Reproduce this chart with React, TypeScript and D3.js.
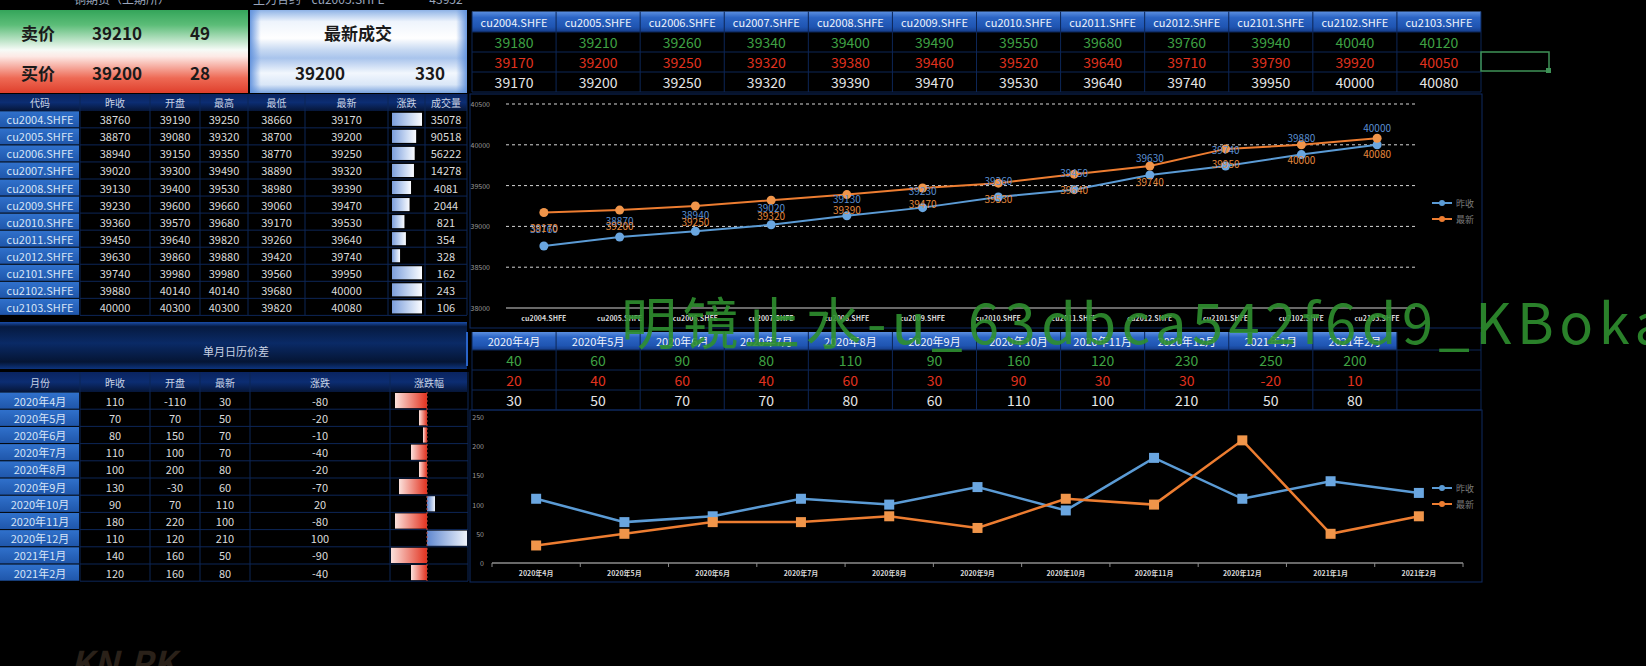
import React from 'react';
import * as d3 from 'd3';

// ---- data ----
const codes = ['cu2004.SHFE', 'cu2005.SHFE', 'cu2006.SHFE', 'cu2007.SHFE', 'cu2008.SHFE', 'cu2009.SHFE',
  'cu2010.SHFE', 'cu2011.SHFE', 'cu2012.SHFE', 'cu2101.SHFE', 'cu2102.SHFE', 'cu2103.SHFE'];
const prevClose = [38760, 38870, 38940, 39020, 39130, 39230, 39360, 39450, 39630, 39740, 39880, 40000];
const openPx = [39190, 39080, 39150, 39300, 39400, 39600, 39570, 39640, 39860, 39980, 40140, 40300];
const highPx = [39250, 39320, 39350, 39490, 39530, 39660, 39680, 39820, 39880, 39980, 40140, 40300];
const lowPx = [38660, 38700, 38770, 38890, 38980, 39060, 39170, 39260, 39420, 39560, 39680, 39820];
const lastPx = [39170, 39200, 39250, 39320, 39390, 39470, 39530, 39640, 39740, 39950, 40000, 40080];
const chgBar = [410, 330, 310, 300, 260, 240, 170, 190, 110, 410, 410, 410];
const volume = [35078, 90518, 56222, 14278, 4081, 2044, 821, 354, 328, 162, 243, 106];
const askPx = [39180, 39210, 39260, 39340, 39400, 39490, 39550, 39680, 39760, 39940, 40040, 40120];
const bidPx = [39170, 39200, 39250, 39320, 39380, 39460, 39520, 39640, 39710, 39790, 39920, 40050];

const months = ['2020年4月', '2020年5月', '2020年6月', '2020年7月', '2020年8月', '2020年9月',
  '2020年10月', '2020年11月', '2020年12月', '2021年1月', '2021年2月'];
const spPrev = [110, 70, 80, 110, 100, 130, 90, 180, 110, 140, 120];
const spOpen = [-110, 70, 150, 100, 200, -30, 70, 220, 120, 160, 160];
const spLast = [30, 50, 70, 70, 80, 60, 110, 100, 210, 50, 80];
const spChg = [-80, -20, -10, -40, -20, -70, 20, -80, 100, -90, -40];
const spAsk = [40, 60, 90, 80, 110, 90, 160, 120, 230, 250, 200];
const spBid = [20, 40, 60, 40, 60, 30, 90, 30, 30, -20, 10];

const upperTicks = [38000, 38500, 39000, 39500, 40000, 40500];
const lowerTicks = [0, 50, 100, 150, 200, 250];
const topHeaders = ['代码', '昨收', '开盘', '最高', '最低', '最新', '涨跌', '成交量'];
const spHeaders = ['月份', '昨收', '开盘', '最新', '涨跌', '涨跌幅'];

const FONT = "'Noto Sans CJK SC', 'Noto Sans', sans-serif";
const BLUE = '#5b9bd5';
const ORANGE = '#ed7d31';
const GRID = '#0d2657';

export default function App() {
  const W = 1646, H = 666;

  // top-left table
  const tlEdges = [0, 80, 150, 200, 248, 305, 388, 425, 467];
  const tlMid = tlEdges.slice(1).map((e, i) => (e + tlEdges[i]) / 2);
  const tlRows = d3.scaleBand<string>().domain(codes).range([110.8, 315.4]);
  const chgX = d3.scaleLinear().domain([0, 410]).range([392, 422]);

  // spread table
  const spEdges = [0, 80, 150, 200, 250, 390, 468];
  const spMid = spEdges.slice(1).map((e, i) => (e + spEdges[i]) / 2);
  const spRows = d3.scaleBand<string>().domain(months).range([392, 581.2]);
  const spX = d3.scaleLinear().domain([-95, 100]).range([389, 467]);

  // right tables
  const trCols = d3.scaleBand<number>().domain(d3.range(12)).range([472, 1481]);
  const trRowY = [32, 52, 72, 92];
  const brRowY = [350, 370, 390, 410];

  // upper chart
  const ux = d3.scalePoint<string>().domain(codes).range([506, 1415]).padding(0.5);
  const uy = d3.scaleLinear().domain([38000, 40500]).range([308, 104]);
  const uLine = d3.line<number>().x((_, i) => ux(codes[i]) as number).y(d => uy(d));

  // lower chart
  const lx = d3.scalePoint<string>().domain(months).range([492, 1463]).padding(0.5);
  const ly = d3.scaleLinear().domain([0, 250]).range([563, 417]);
  const lLine = d3.line<number>().x((_, i) => lx(months[i]) as number).y(d => ly(d));
  const lBounds = d3.range(12).map(i => 492 + i * lx.step());

  const num = (x: number, y: number, t: string | number, fill = '#dcdcdc', size = 11, key?: string | number) => (
    <text key={key} x={x} y={y} fill={fill} fontSize={size} textAnchor="middle" dominantBaseline="central">{t}</text>
  );

  return (
    <div style={{ position: 'absolute', left: 0, top: 0 }}>
      <svg width={W} height={H} style={{ display: 'block' }} fontFamily={FONT}>
        <defs>
          <linearGradient id="gq" x1="0" y1="0" x2="0" y2="1">
            <stop offset="0%" stopColor="#34a55a" />
            <stop offset="18%" stopColor="#5cbd78" />
            <stop offset="48%" stopColor="#f6fbf7" />
            <stop offset="56%" stopColor="#fde9e5" />
            <stop offset="82%" stopColor="#ee6a55" />
            <stop offset="100%" stopColor="#df3f2c" />
          </linearGradient>
          <linearGradient id="gb" x1="0" y1="0" x2="0" y2="1">
            <stop offset="0%" stopColor="#8fb3e6" />
            <stop offset="14%" stopColor="#eef4fc" />
            <stop offset="34%" stopColor="#ffffff" />
            <stop offset="48%" stopColor="#c7d9f2" />
            <stop offset="58%" stopColor="#a9c4ec" />
            <stop offset="76%" stopColor="#f2f7fd" />
            <stop offset="90%" stopColor="#d9e6f7" />
            <stop offset="100%" stopColor="#7aa3de" />
          </linearGradient>
          <linearGradient id="gbEdge" x1="0" y1="0" x2="1" y2="0">
            <stop offset="0%" stopColor="#5d8fdc" stopOpacity="0.9" />
            <stop offset="5%" stopColor="#5d8fdc" stopOpacity="0" />
            <stop offset="95%" stopColor="#5d8fdc" stopOpacity="0" />
            <stop offset="100%" stopColor="#5d8fdc" stopOpacity="0.9" />
          </linearGradient>
          <linearGradient id="ghead" x1="0" y1="0" x2="0" y2="1">
            <stop offset="0%" stopColor="#5b8fe0" />
            <stop offset="30%" stopColor="#2b64c4" />
            <stop offset="75%" stopColor="#1f55b2" />
            <stop offset="100%" stopColor="#163d8a" />
          </linearGradient>
          <linearGradient id="gdark" x1="0" y1="0" x2="0" y2="1">
            <stop offset="0%" stopColor="#0a2460" />
            <stop offset="50%" stopColor="#0c2d72" />
            <stop offset="100%" stopColor="#061638" />
          </linearGradient>
          <linearGradient id="gcode" x1="0" y1="0" x2="0" y2="1">
            <stop offset="0%" stopColor="#3071cc" />
            <stop offset="100%" stopColor="#1f56aa" />
          </linearGradient>
          <linearGradient id="gband" x1="0" y1="0" x2="0" y2="1">
            <stop offset="0%" stopColor="#1a4da8" />
            <stop offset="10%" stopColor="#061a40" />
            <stop offset="45%" stopColor="#0a2a66" />
            <stop offset="85%" stopColor="#051534" />
            <stop offset="100%" stopColor="#0d3580" />
          </linearGradient>
          <linearGradient id="gbar" x1="0" y1="0" x2="1" y2="0">
            <stop offset="0%" stopColor="#7c9edb" />
            <stop offset="60%" stopColor="#c8d8f2" />
            <stop offset="100%" stopColor="#fbfcff" />
          </linearGradient>
          <linearGradient id="gneg" x1="0" y1="0" x2="1" y2="0">
            <stop offset="0%" stopColor="#fbe1dc" />
            <stop offset="100%" stopColor="#e2321f" />
          </linearGradient>
          <linearGradient id="gpos" x1="0" y1="0" x2="1" y2="0">
            <stop offset="0%" stopColor="#6088d0" />
            <stop offset="100%" stopColor="#eef3fb" />
          </linearGradient>
        </defs>

        <rect width={W} height={H} fill="#000" />

        {/* top strip (cut off) */}
        <g fill="#9aa6bd" fontSize={12} textAnchor="middle">
          <text x={122} y={4}>铜期货（上期所）</text>
          <text x={277} y={4}>主力合约</text>
          <text x={348} y={4}>cu2005.SHFE</text>
          <text x={446} y={4}>43952</text>
        </g>

        {/* quote boxes */}
        <rect x={0} y={10} width={248} height={83} fill="url(#gq)" />
        <rect x={250} y={10} width={217} height={83} fill="url(#gb)" />
        <rect x={250} y={10} width={217} height={83} fill="url(#gbEdge)" />
        <g fill="#1a1a1a" fontSize={17} fontWeight="bold" textAnchor="middle" dominantBaseline="central">
          <text x={38} y={32}>卖价</text>
          <text x={117} y={32}>39210</text>
          <text x={200} y={32}>49</text>
          <text x={38} y={72}>买价</text>
          <text x={117} y={72}>39200</text>
          <text x={200} y={72}>28</text>
          <text x={358} y={32}>最新成交</text>
          <text x={320} y={72}>39200</text>
          <text x={430} y={72}>330</text>
        </g>

        {/* top-left table */}
        <rect x={0} y={94} width={467} height={17} fill="url(#gdark)" />
        {topHeaders.map((h, i) => num(tlMid[i], 102.5, h, '#c8d2e4', 10, 'th' + i))}
        {codes.map((c, i) => {
          const y = tlRows(c) as number;
          const bh = tlRows.bandwidth();
          return (
            <g key={c}>
              <rect x={0} y={y + 0.5} width={79} height={bh - 1} fill="url(#gcode)" />
              {num(40, y + bh / 2, c, '#d6e4f7', 11)}
              {num(tlMid[1], y + bh / 2, prevClose[i])}
              {num(tlMid[2], y + bh / 2, openPx[i])}
              {num(tlMid[3], y + bh / 2, highPx[i])}
              {num(tlMid[4], y + bh / 2, lowPx[i])}
              {num(tlMid[5], y + bh / 2, lastPx[i])}
              <rect x={chgX(0)} y={y + 2} width={chgX(chgBar[i]) - chgX(0)} height={bh - 4} fill="url(#gbar)" />
              {num(tlMid[7], y + bh / 2, volume[i])}
              <line x1={80} x2={467} y1={y + bh} y2={y + bh} stroke={GRID} />
            </g>
          );
        })}
        {tlEdges.slice(1).map(e => <line key={'tv' + e} x1={e} x2={e} y1={94} y2={315} stroke={GRID} />)}

        {/* spread section title */}
        <rect x={0} y={322} width={467} height={47} fill="url(#gband)" />
        <line x1={467} x2={467} y1={332} y2={366} stroke="#2a64c8" strokeWidth={2} />
        {num(236, 351, '单月日历价差', '#c8d2e4', 11)}
        <rect x={0} y={372} width={467} height={20} fill="url(#gdark)" />
        {spHeaders.map((h, i) => num(spMid[i], 382, h, '#c8d2e4', 10, 'sh' + i))}
        {months.map((m, i) => {
          const y = spRows(m) as number;
          const bh = spRows.bandwidth();
          const v = spChg[i];
          const x0 = spX(Math.min(0, v));
          return (
            <g key={m}>
              <rect x={0} y={y + 0.5} width={79} height={bh - 1} fill="url(#gcode)" />
              {num(40, y + bh / 2, m, '#d6e4f7', 11)}
              {num(spMid[1], y + bh / 2, spPrev[i])}
              {num(spMid[2], y + bh / 2, spOpen[i])}
              {num(spMid[3], y + bh / 2, spLast[i])}
              {num(spMid[4], y + bh / 2, spChg[i])}
              <rect x={x0} y={y + 1} width={Math.abs(spX(v) - spX(0))} height={bh - 2}
                fill={v < 0 ? 'url(#gneg)' : 'url(#gpos)'} />
              <line x1={80} x2={468} y1={y + bh} y2={y + bh} stroke={GRID} />
            </g>
          );
        })}
        <line x1={spX(0)} x2={spX(0)} y1={392} y2={581} stroke="#c24a3a" strokeDasharray="2,2" />
        {spEdges.slice(1).map(e => <line key={'sv' + e} x1={e} x2={e} y1={372} y2={581} stroke={GRID} />)}

        {/* top-right contract table */}
        <rect x={472} y={11.5} width={1009} height={20.5} fill="url(#ghead)" />
        {codes.map((c, i) => {
          const x = (trCols(i) as number) + trCols.bandwidth() / 2;
          return (
            <g key={'tr' + c}>
              {num(x, 22, c, '#eef3fb', 11)}
              {num(x, 42, askPx[i], '#3fa244', 14)}
              {num(x, 62, bidPx[i], '#e0321f', 14)}
              {num(x, 82, lastPx[i], '#e6e6e6', 14)}
            </g>
          );
        })}
        {trRowY.map(y => <line key={'trh' + y} x1={472} x2={1481} y1={y} y2={y} stroke={GRID} />)}
        {d3.range(13).map(i => {
          const x = i < 12 ? (trCols(i) as number) : 1481;
          return <line key={'trv' + i} x1={x} x2={x} y1={11.5} y2={92} stroke={GRID} />;
        })}

        {/* excel selection box */}
        <rect x={1481} y={52} width={68} height={19} fill="none" stroke="#3f9257" strokeWidth={1.5} />
        <rect x={1546} y={68} width={5} height={5} fill="#3f9257" />

        {/* upper chart */}
        <rect x={470} y={94} width={1012} height={234} fill="none" stroke="#0f2b62" />
        {upperTicks.map(t => (
          <g key={'ut' + t}>
            {t > 38000 && (
              <line x1={506} x2={1415} y1={uy(t)} y2={uy(t)} stroke="#d6d6d6" strokeDasharray="3,3" />
            )}
            <text x={490} y={uy(t)} fill="#9a9a9a" fontSize={7} textAnchor="end" dominantBaseline="central">{t}</text>
          </g>
        ))}
        <line x1={506} x2={1415} y1={uy(38000)} y2={uy(38000)} stroke="#8c8c8c" strokeWidth={1.5} />
        {codes.map(c => (
          <text key={'ux' + c} x={ux(c)} y={318} fill="#d8d8d8" fontSize={7} fontWeight="bold"
            textAnchor="middle" dominantBaseline="central">{c}</text>
        ))}
        <path d={uLine(prevClose) as string} fill="none" stroke={BLUE} strokeWidth={2} />
        <path d={uLine(lastPx) as string} fill="none" stroke={ORANGE} strokeWidth={2} />
        {codes.map((c, i) => (
          <g key={'um' + c}>
            <circle cx={ux(c)} cy={uy(prevClose[i])} r={4.5} fill="#6aa6e0" />
            <circle cx={ux(c)} cy={uy(lastPx[i])} r={4.5} fill="#f0954a" />
            <text x={ux(c)} y={uy(prevClose[i]) - 17} fill="#5a8fd2" fontSize={10} textAnchor="middle"
              dominantBaseline="central">{prevClose[i]}</text>
            <text x={ux(c)} y={uy(lastPx[i]) + 15} fill="#e4893e" fontSize={10} textAnchor="middle"
              dominantBaseline="central">{lastPx[i]}</text>
          </g>
        ))}
        {[['昨收', BLUE, 203], ['最新', ORANGE, 219]].map(([t, col, y]) => (
          <g key={'ul' + t}>
            <line x1={1432} x2={1452} y1={y as number} y2={y as number} stroke={col as string} strokeWidth={2} />
            <circle cx={1442} cy={y as number} r={3} fill={col as string} />
            <text x={1456} y={y as number} fill="#7a7a7a" fontSize={9} dominantBaseline="central">{t}</text>
          </g>
        ))}

        {/* lower-right spread table */}
        <rect x={472} y={332} width={trCols.bandwidth() * 11} height={18} fill="url(#ghead)" />
        {months.map((m, i) => {
          const x = (trCols(i) as number) + trCols.bandwidth() / 2;
          return (
            <g key={'br' + m}>
              {num(x, 341, m, '#eef3fb', 11)}
              {num(x, 360, spAsk[i], '#3fa244', 14)}
              {num(x, 380, spBid[i], '#e0321f', 14)}
              {num(x, 400, spLast[i], '#e6e6e6', 14)}
            </g>
          );
        })}
        {brRowY.map(y => <line key={'brh' + y} x1={472} x2={1481} y1={y} y2={y} stroke={GRID} />)}
        {d3.range(13).map(i => {
          const x = i < 12 ? (trCols(i) as number) : 1481;
          return <line key={'brv' + i} x1={x} x2={x} y1={332} y2={410} stroke={GRID} />;
        })}

        {/* lower chart */}
        <rect x={470} y={410} width={1012} height={172} fill="none" stroke="#0f2b62" />
        {lowerTicks.map(t => (
          <text key={'lt' + t} x={484} y={ly(t)} fill="#9a9a9a" fontSize={7} textAnchor="end"
            dominantBaseline="central">{t}</text>
        ))}
        <line x1={492} x2={1463} y1={ly(0)} y2={ly(0)} stroke="#8c8c8c" strokeWidth={1.5} />
        {lBounds.map(x => <line key={'lb' + x} x1={x} x2={x} y1={ly(0)} y2={ly(0) + 4} stroke="#8c8c8c" />)}
        {months.map(m => (
          <text key={'lx' + m} x={lx(m)} y={573} fill="#d8d8d8" fontSize={7} fontWeight="bold"
            textAnchor="middle" dominantBaseline="central">{m}</text>
        ))}
        <path d={lLine(spPrev) as string} fill="none" stroke={BLUE} strokeWidth={2.5} />
        <path d={lLine(spLast) as string} fill="none" stroke={ORANGE} strokeWidth={2.5} />
        {months.map((m, i) => (
          <g key={'lm' + m}>
            <rect x={(lx(m) as number) - 5} y={ly(spPrev[i]) - 5} width={10} height={10} fill="#6aa6e0" />
            <rect x={(lx(m) as number) - 5} y={ly(spLast[i]) - 5} width={10} height={10} fill="#f0954a" />
          </g>
        ))}
        {[['昨收', BLUE, 488], ['最新', ORANGE, 504]].map(([t, col, y]) => (
          <g key={'ll' + t}>
            <line x1={1432} x2={1452} y1={y as number} y2={y as number} stroke={col as string} strokeWidth={2} />
            <circle cx={1442} cy={y as number} r={3} fill={col as string} />
            <text x={1456} y={y as number} fill="#7a7a7a" fontSize={9} dominantBaseline="central">{t}</text>
          </g>
        ))}

        {/* faint logo */}
        <text x={70} y={676} fill="#2a2119" fontSize={34} fontWeight="bold" fontStyle="italic">KN.PK</text>

        {/* watermark */}
        <text x={621} y={344} fill="#2f8f2f" fillOpacity={0.9} fontSize={56} textLength={1045}
          lengthAdjust="spacing">明镜止水-u_63dbca542f6d9_KBoka</text>
      </svg>
    </div>
  );
}
